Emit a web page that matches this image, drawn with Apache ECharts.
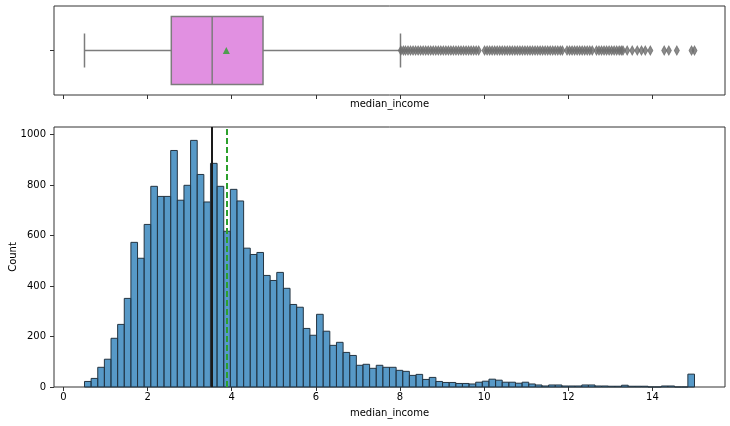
<!DOCTYPE html>
<html>
<head>
<meta charset="utf-8">
<script src="https://cdn.jsdelivr.net/npm/echarts@6/dist/echarts.min.js"></script>
<style>
  html, body { margin: 0; padding: 0; background: #fff; }
  #main { width: 730px; height: 426px; }
</style>
</head>
<body>
<div id="main"></div>
<script>
// median_income: boxplot (top) + histogram (bottom)
var binStart = 0.4999;
var binWidth = 0.15761;
var counts = [
  22, 34, 78, 110, 193, 248, 351, 573, 510, 644,
  795, 755, 755, 937, 740, 799, 977, 842, 733, 886,
  795, 617, 783, 737, 550, 525, 533, 442, 422, 454,
  391, 327, 316, 232, 205, 288, 221, 165, 177, 137,
  125, 86, 90, 74, 86, 78, 78, 66, 62, 46,
  50, 30, 38, 22, 18, 18, 14, 14, 12, 19,
  23, 31, 27, 19, 19, 15, 19, 12, 8, 4,
  8, 8, 4, 4, 4, 8, 8, 4, 4, 3,
  3, 7, 3, 3, 3, 0, 0, 4, 4, 0,
  0, 51
];
// [min whisker, Q1, median, Q3, max whisker]
var boxStats = [0.4999, 2.5634, 3.5348, 4.7432, 8.0113];
var meanValue = 3.8707;
var outliers = [
  8.02, 8.08, 8.13, 8.19, 8.25, 8.31, 8.37, 8.43, 8.49, 8.55,
  8.61, 8.67, 8.73, 8.79, 8.85, 8.91, 8.97, 9.03, 9.09, 9.15,
  9.21, 9.27, 9.33, 9.39, 9.45, 9.51, 9.57, 9.63, 9.69, 9.75,
  9.81, 9.87, 10.01, 10.07, 10.13, 10.19, 10.25, 10.31, 10.37, 10.43,
  10.49, 10.55, 10.61, 10.67, 10.73, 10.79, 10.85, 10.91, 10.97, 11.03,
  11.09, 11.15, 11.21, 11.27, 11.33, 11.39, 11.45, 11.51, 11.57, 11.63,
  11.69, 11.75, 11.81, 11.86, 11.97, 12.03, 12.09, 12.15, 12.21, 12.27,
  12.33, 12.39, 12.45, 12.51, 12.57, 12.67, 12.73, 12.79, 12.85, 12.91,
  12.97, 13.03, 13.09, 13.15, 13.21, 13.26, 13.30, 13.40, 13.52, 13.64,
  13.74, 13.83, 13.95, 14.28, 14.39, 14.58, 14.93, 15.00
];
var xTicks = [0, 2, 4, 6, 8, 10, 12, 14];

var textStyle = { fontFamily: 'DejaVu Sans', fontSize: 10, color: '#000' };
var boxLine = '#7c7c7c';

var histData = counts.map(function (c, i) {
  return [binStart + i * binWidth, binStart + (i + 1) * binWidth, c];
});

var myChart = echarts.init(document.getElementById('main'));

var option = {
  animation: false,
  backgroundColor: '#fff',
  textStyle: textStyle,
  grid: [
    { left: 54, right: 5, top: 6, height: 89, show: true, borderColor: '#333', borderWidth: 1,
      containLabel: false, outerBoundsMode: 'none' },
    { left: 54, right: 5, top: 127, height: 260, show: true, borderColor: '#333', borderWidth: 1,
      containLabel: false, outerBoundsMode: 'none' }
  ],
  xAxis: [{
    gridIndex: 0, type: 'value', min: -0.225, max: 15.725,
    name: 'median_income', nameLocation: 'middle', nameGap: 4, nameMoveOverlap: false,
    nameTextStyle: textStyle,
    axisLine: { show: false, onZero: false },
    axisTick: { show: true, length: 4, customValues: xTicks, lineStyle: { color: '#333' } },
    axisLabel: { show: false },
    splitLine: { show: false }
  }, {
    gridIndex: 1, type: 'value', min: -0.225, max: 15.725,
    name: 'median_income', nameLocation: 'middle', nameGap: 21, nameMoveOverlap: false,
    nameTextStyle: textStyle,
    axisLine: { show: false, onZero: false },
    axisTick: { show: true, length: 4, customValues: xTicks, lineStyle: { color: '#333' } },
    axisLabel: { show: true, margin: 5, customValues: xTicks, fontFamily: 'DejaVu Sans', fontSize: 10, color: '#000' },
    splitLine: { show: false }
  }],
  yAxis: [{
    gridIndex: 0, type: 'value', min: -0.5, max: 0.5,
    axisLine: { show: false, onZero: false },
    axisTick: { show: true, length: 4, customValues: [0], lineStyle: { color: '#333' } },
    axisLabel: { show: false },
    splitLine: { show: false }
  }, {
    gridIndex: 1, type: 'value', min: 0, max: 1030, interval: 200,
    name: 'Count', nameLocation: 'middle', nameGap: 36, nameMoveOverlap: false,
    nameTextStyle: textStyle,
    axisLine: { show: false, onZero: false },
    axisTick: { show: true, length: 4, lineStyle: { color: '#333' } },
    axisLabel: { margin: 8, fontFamily: 'DejaVu Sans', fontSize: 10, color: '#000',
      showMaxLabel: false, formatter: function (v) { return String(v); } },
    splitLine: { show: false }
  }],
  series: [{
    // box + whiskers
    type: 'custom',
    xAxisIndex: 0, yAxisIndex: 0,
    data: [boxStats],
    renderItem: function (params, api) {
      var lo = api.value(0), q1 = api.value(1), med = api.value(2),
          q3 = api.value(3), hi = api.value(4);
      var half = 0.382, cap = 0.191;
      var p = function (x, y) { return api.coord([x, y]); };
      var ls = { stroke: boxLine, lineWidth: 1.5 };
      var a = p(q1, half), b = p(q3, -half);
      return {
        type: 'group',
        children: [
          { type: 'line', shape: { x1: p(lo, 0)[0], y1: p(lo, 0)[1], x2: p(q1, 0)[0], y2: p(q1, 0)[1] }, style: ls },
          { type: 'line', shape: { x1: p(q3, 0)[0], y1: p(q3, 0)[1], x2: p(hi, 0)[0], y2: p(hi, 0)[1] }, style: ls },
          { type: 'line', shape: { x1: p(lo, cap)[0], y1: p(lo, cap)[1], x2: p(lo, -cap)[0], y2: p(lo, -cap)[1] }, style: ls },
          { type: 'line', shape: { x1: p(hi, cap)[0], y1: p(hi, cap)[1], x2: p(hi, -cap)[0], y2: p(hi, -cap)[1] }, style: ls },
          { type: 'rect', shape: { x: a[0], y: Math.min(a[1], b[1]), width: b[0] - a[0], height: Math.abs(b[1] - a[1]) },
            style: { fill: '#e190e1', stroke: boxLine, lineWidth: 1.5 } },
          { type: 'line', shape: { x1: p(med, half)[0], y1: p(med, half)[1], x2: p(med, -half)[0], y2: p(med, -half)[1] }, style: ls }
        ]
      };
    }
  }, {
    type: 'scatter',
    xAxisIndex: 0, yAxisIndex: 0,
    symbol: 'diamond',
    symbolSize: [5, 9],
    itemStyle: { color: '#6e6e6e', borderColor: '#6e6e6e', borderWidth: 1 },
    data: outliers.map(function (v) { return [v, 0]; }),
    silent: true
  }, {
    type: 'scatter',
    xAxisIndex: 0, yAxisIndex: 0,
    symbol: 'triangle',
    symbolSize: 7,
    itemStyle: { color: '#2ca02c' },
    data: [[meanValue, 0]],
    z: 5,
    silent: true
  }, {
    // histogram
    type: 'custom',
    xAxisIndex: 1, yAxisIndex: 1,
    data: histData,
    encode: { x: [0, 1], y: 2 },
    renderItem: function (params, api) {
      var tl = api.coord([api.value(0), api.value(2)]);
      var br = api.coord([api.value(1), 0]);
      return {
        type: 'rect',
        shape: { x: tl[0], y: tl[1], width: br[0] - tl[0], height: br[1] - tl[1] },
        style: { fill: 'rgba(31,119,180,0.75)', stroke: '#243441', lineWidth: 1 }
      };
    },
    markLine: {
      silent: true,
      symbol: 'none',
      label: { show: false },
      animation: false,
      data: [
        { xAxis: boxStats[2], lineStyle: { color: '#1a1a1a', width: 2, type: 'solid' } },
        { xAxis: meanValue, lineStyle: { color: '#2ca02c', width: 2, type: [6, 3] } }
      ]
    }
  }]
};

myChart.setOption(option);
</script>
</body>
</html>
